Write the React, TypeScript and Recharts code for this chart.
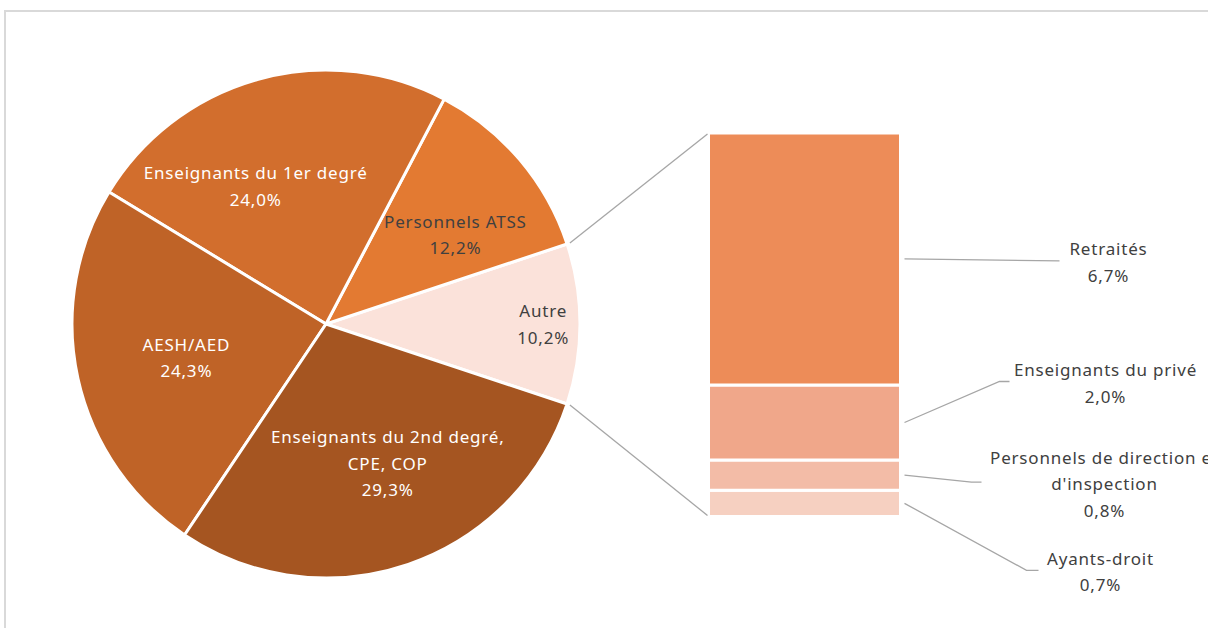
import React from "react";
import { PieChart, Pie, Cell, BarChart, Bar, XAxis, YAxis } from "recharts";

// ---- Data ----
const pieCategories = [
  "Autre",
  "Personnels ATSS",
  "Enseignants du 1er degré",
  "AESH/AED",
  "Enseignants du 2nd degré,\nCPE, COP",
];
const pieValues = [10.2, 12.2, 24.0, 24.3, 29.3];

const barCategories = [
  "Ayants-droit",
  "Personnels de direction et\nd'inspection",
  "Enseignants du privé",
  "Retraités",
];
const barValues = [0.7, 0.8, 2.0, 6.7];

// ---- Styles / layout ----
const W = 1208;
const H = 628;
const PIE_CX = 326;
const PIE_CY = 324;
const PIE_R = 254;
const FONT = "'Noto Sans', sans-serif";
const FS = 17;
const LS = 0.8;
const LH = 26.5;
const DARK = "#404040";
const LINE = "#A6A6A6";

const pieColors = ["#FBE2DA", "#E37A32", "#D26E2D", "#BF6327", "#A55521"];
const pieLabelColors = [DARK, DARK, "#FFFFFF", "#FFFFFF", "#FFFFFF"];
// radial fraction and angular offset of each pie label
const pieLabelLayout = [
  { rf: 0.855, da: 0 },
  { rf: 0.62, da: -5.6 },
  { rf: 0.61, da: 11.5 },
  { rf: 0.565, da: 1 },
  { rf: 0.6, da: 5 },
];

const barColors = ["#F6D0C1", "#F3BCA7", "#F0A78A", "#ED8C58"];
// leader line and text offsets relative to the right-middle of each segment
const barLabelLayout = [
  { elbow: [126, 67], end: [138, 67], text: [200, 55] },
  { elbow: [71, 7], end: [81, 7], text: [204, -18] },
  { elbow: [99, -41], end: [109, -41], text: [205, -53] },
  { elbow: [159, 2], end: [159, 2], text: [208, -10] },
];

const pieTotal = pieValues.reduce((a, b) => a + b, 0);
const halfAutre = (pieValues[0] / pieTotal) * 180;
const barTotal = barValues.reduce((a, b) => a + b, 0);

const pieData = pieCategories.map((name, i) => ({ name, value: pieValues[i] }));
const barRow: Record<string, any> = { cat: "Autre" };
barCategories.forEach((c, i) => (barRow["s" + i] = barValues[i]));
const barData = [barRow];

const fmt = (v: number) => v.toFixed(1).replace(".", ",") + "%";
const RAD = Math.PI / 180;

function MultiText({ x, y, lines, fill }: { x: number; y: number; lines: string[]; fill: string }) {
  return (
    <g>
      {lines.map((l, i) => (
        <text
          key={i}
          x={x}
          y={y + (i - (lines.length - 1) / 2) * LH}
          textAnchor="middle"
          dominantBaseline="central"
          fill={fill}
          fontFamily={FONT}
          fontSize={FS}
          letterSpacing={LS}
        >
          {l}
        </text>
      ))}
    </g>
  );
}

const renderPieLabel = (props: any) => {
  const { cx, cy, midAngle, outerRadius, index } = props;
  const lay = pieLabelLayout[index];
  const a = (midAngle + lay.da) * RAD;
  const r = outerRadius * lay.rf;
  const x = cx + r * Math.cos(a);
  const y = cy - r * Math.sin(a);
  const lines = [...pieCategories[index].split("\n"), fmt(pieValues[index])];
  return <MultiText key={index} x={x} y={y} lines={lines} fill={pieLabelColors[index]} />;
};

const makeBarLabel = (i: number) => (props: any) => {
  const { x, y, width, height } = props;
  const ax = x + width;
  const ay = y + height / 2;
  const lay = barLabelLayout[i];
  const sx = ax + 4;
  const lines = [...barCategories[i].split("\n"), fmt(barValues[i])];
  const tx = ax + lay.text[0];
  const tyFirst = ay + lay.text[1];
  const tyCenter = tyFirst + ((lines.length - 1) / 2) * LH;
  const connectors: React.ReactNode[] = [];
  const edgeR = PIE_R + 3;
  if (i === barCategories.length - 1) {
    const px = PIE_CX + edgeR * Math.cos(halfAutre * RAD);
    const py = PIE_CY - edgeR * Math.sin(halfAutre * RAD);
    connectors.push(
      <line key="ct" x1={px} y1={py} x2={x - 1} y2={y + 1} stroke={LINE} strokeWidth={1.3} />
    );
  }
  if (i === 0) {
    const px = PIE_CX + edgeR * Math.cos(halfAutre * RAD);
    const py = PIE_CY + edgeR * Math.sin(halfAutre * RAD);
    connectors.push(
      <line key="cb" x1={px} y1={py} x2={x - 1} y2={y + height - 1} stroke={LINE} strokeWidth={1.3} />
    );
  }
  return (
    <g key={"bl" + i}>
      {connectors}
      <polyline
        points={`${sx},${ay} ${ax + lay.elbow[0]},${ay + lay.elbow[1]} ${ax + lay.end[0]},${ay + lay.end[1]}`}
        fill="none"
        stroke={LINE}
        strokeWidth={1.3}
      />
      <MultiText x={tx} y={tyCenter} lines={lines} fill={DARK} />
    </g>
  );
};

export default function App() {
  return (
    <div
      style={{
        position: "absolute",
        left: 0,
        top: 0,
        width: W,
        height: H,
        overflow: "hidden",
        background: "#fff",
      }}
    >
      <div
        style={{
          position: "absolute",
          left: 4,
          top: 10,
          width: 1300,
          height: 700,
          border: "2px solid #D9D9D9",
        }}
      />
      <div style={{ position: "absolute", left: 0, top: 0 }}>
        <PieChart width={W} height={H} margin={{ top: 0, right: 0, bottom: 0, left: 0 }}>
          <Pie
            data={pieData}
            dataKey="value"
            nameKey="name"
            cx={PIE_CX}
            cy={PIE_CY}
            outerRadius={PIE_R}
            startAngle={-halfAutre}
            endAngle={360 - halfAutre}
            stroke="#FFFFFF"
            strokeWidth={3}
            labelLine={false}
            label={renderPieLabel}
            isAnimationActive={false}
          >
            {pieData.map((d, i) => (
              <Cell key={d.name} fill={pieColors[i]} />
            ))}
          </Pie>
        </PieChart>
      </div>
      <div style={{ position: "absolute", left: 0, top: 0 }}>
        <BarChart
          width={W}
          height={H}
          data={barData}
          barCategoryGap={0}
          margin={{ top: 133, right: 307.5, bottom: 111.5, left: 708.5 }}
        >
          <XAxis dataKey="cat" hide />
          <YAxis hide domain={[0, barTotal]} />
          {barCategories.map((c, i) => (
            <Bar
              key={c}
              dataKey={"s" + i}
              stackId="a"
              fill={barColors[i]}
              stroke="#FFFFFF"
              strokeWidth={3}
              label={makeBarLabel(i)}
              isAnimationActive={false}
            />
          ))}
        </BarChart>
      </div>
    </div>
  );
}
